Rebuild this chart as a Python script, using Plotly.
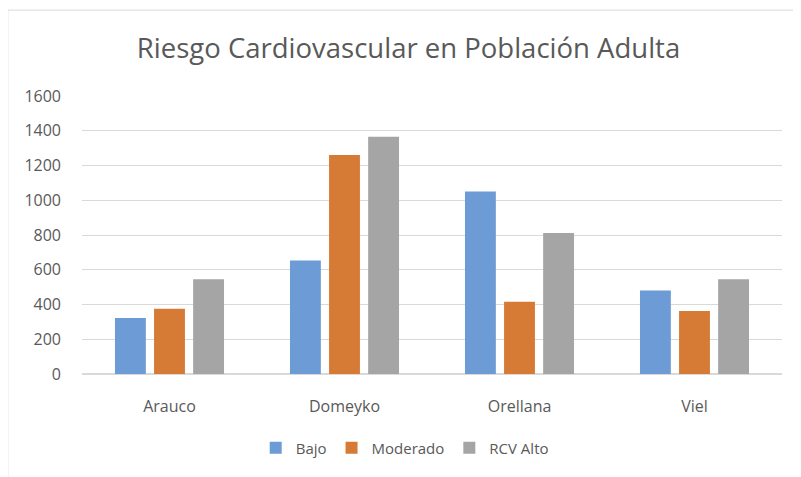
"""Riesgo cardiovascular: grouped bar chart."""
import plotly.graph_objects as go

comunas = ["Arauco", "Domeyko", "Orellana", "Viel"]
bajo = [322, 653, 1050, 481]
moderado = [375, 1261, 416, 362]
rcv_alto = [546, 1366, 811, 546]

BLUE = "#6d9bd5"
ORANGE = "#d67b36"
GRAY = "#a5a5a5"
TEXT = "#595959"
FONT = "'Open Sans', Lato, sans-serif"

fig = go.Figure()
for name, vals, color in [("Bajo", bajo, BLUE), ("Moderado", moderado, ORANGE), ("RCV Alto", rcv_alto, GRAY)]:
    fig.add_trace(go.Bar(x=comunas, y=vals, name=name, marker_color=color,
                         marker_line_width=0))

# outer chart border (Excel style)
fig.add_shape(type="rect", xref="paper", yref="paper",
              x0=-0.106, x1=1.05, y0=-0.45, y1=1.309,
              line=dict(color="#d9d9d9", width=1), fillcolor="rgba(0,0,0,0)", layer="below")

fig.update_layout(
    width=801, height=477,
    margin=dict(l=74, r=27, t=88, b=111),
    paper_bgcolor="white", plot_bgcolor="white",
    font=dict(family=FONT, color=TEXT, size=15),
    title=dict(text="Riesgo Cardiovascular en Población Adulta", x=0.5, xanchor="center",
               y=0.916, yanchor="middle", font=dict(size=27.5, color=TEXT, family=FONT)),
    barmode="group", bargap=0.33, bargroupgap=0.21,
    legend=dict(orientation="h", x=0.461, xanchor="center", y=-0.266, yanchor="middle",
                font=dict(size=15, color=TEXT), itemwidth=30, traceorder="normal"),
    showlegend=True,
)
fig.update_yaxes(range=[0, 1600], dtick=200, showgrid=True, gridcolor="#d9d9d9",
                 zeroline=True, zerolinecolor="#d9d9d9", tickfont=dict(size=16, color=TEXT),
                 ticks="", ticklabelstandoff=20)
fig.update_xaxes(showline=False, ticks="", tickfont=dict(size=16, color=TEXT), ticklabelstandoff=21)

fig.write_html("out.html")
